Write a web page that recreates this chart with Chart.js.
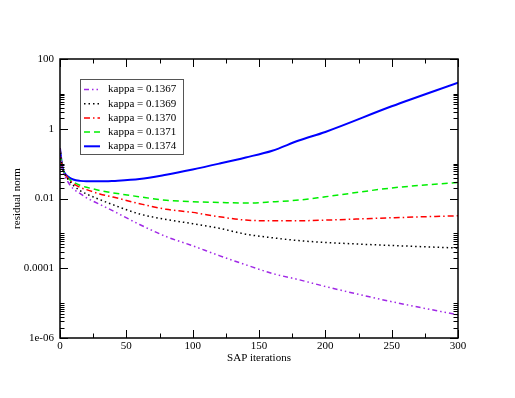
<!DOCTYPE html>
<html>
<head>
<meta charset="utf-8">
<script src="https://cdn.jsdelivr.net/npm/chart.js@4/dist/chart.umd.min.js"></script>
<style>
  body { margin: 0; background: #fff; }
  canvas { display: block; }
</style>
</head>
<body>
<canvas id="residualChart" width="515" height="398"></canvas>
<script>
// iterations shared by all series
const iterations = [0, 1, 2, 4, 7, 10, 15, 20, 30, 40, 60, 80, 100, 120, 140, 160, 180, 200, 250, 300];

const kappaLabels = ['kappa = 0.1367', 'kappa = 0.1369', 'kappa = 0.1370', 'kappa = 0.1371', 'kappa = 0.1374'];

const res1367 = [0.28, 0.11, 0.065, 0.042, 0.026, 0.019, 0.014, 0.0105, 0.0068, 0.0044, 0.0018, 0.00081, 0.00044, 0.00023, 0.000126, 0.000071, 0.000047, 0.00003, 0.000011, 0.0000046];
const res1369 = [0.28, 0.12, 0.07, 0.046, 0.032, 0.024, 0.017, 0.0135, 0.0093, 0.0066, 0.0036, 0.0025, 0.0019, 0.0014, 0.00095, 0.00075, 0.00062, 0.00055, 0.00045, 0.00038];
const res1370 = [0.28, 0.12, 0.07, 0.048, 0.034, 0.027, 0.021, 0.018, 0.0135, 0.011, 0.0071, 0.0049, 0.004, 0.003, 0.0024, 0.0023, 0.0023, 0.0024, 0.0028, 0.0032];
const res1371 = [0.28, 0.12, 0.07, 0.05, 0.036, 0.03, 0.024, 0.021, 0.017, 0.0145, 0.0112, 0.0089, 0.0081, 0.0077, 0.0074, 0.008, 0.009, 0.0112, 0.02, 0.029];
const res1374 = [0.28, 0.13, 0.075, 0.05, 0.04, 0.035, 0.032, 0.031, 0.031, 0.032, 0.036, 0.048, 0.068, 0.1, 0.15, 0.235, 0.46, 0.81, 4.4, 21];

// y axis: labelled majors every two decades
const yMajorValues = [1e-6, 1e-4, 1e-2, 1, 100];
const yMajorLabels = ['1e-06', '0.0001', '0.01', '1', '100'];
const yMinorSteps = [2, 3, 4, 5, 6, 7, 8, 9, 10];

const FONT = { family: '"Liberation Serif", "Times New Roman", serif', size: 11 };

function toPoints(values) {
    return iterations.map((it, i) => ({ x: it, y: values[i] }));
}

function isMajor(v) {
    return yMajorValues.some(m => Math.abs(v - m) / m < 1e-6);
}

// inward tick marks on all four sides + frame
const frameTicks = {
    id: 'frameTicks',
    afterDatasetsDraw(chart) {
        const { ctx, chartArea: a, scales } = chart;
        ctx.save();
        ctx.strokeStyle = '#000';
        ctx.lineWidth = 1;
        const line = (x1, y1, x2, y2) => {
            ctx.beginPath();
            ctx.moveTo(x1, y1);
            ctx.lineTo(x2, y2);
            ctx.stroke();
        };
        scales.x.ticks.forEach(t => {
            const px = Math.round(scales.x.getPixelForValue(t.value)) + 0.5;
            const len = t.value % 50 === 0 ? 8 : 4.5;
            line(px, a.bottom, px, a.bottom - len);
            line(px, a.top, px, a.top + len);
        });
        scales.y.ticks.forEach(t => {
            const py = Math.round(scales.y.getPixelForValue(t.value)) + 0.5;
            const len = isMajor(t.value) ? 8 : 4.5;
            line(a.left, py, a.left + len, py);
            line(a.right, py, a.right - len, py);
        });
        ctx.lineWidth = 1.5;
        ctx.strokeRect(a.left, a.top, a.right - a.left, a.bottom - a.top);
        ctx.restore();
    }
};

// boxed legend inside the plot, top-left
const boxLegend = {
    id: 'boxLegend',
    afterDraw(chart) {
        const { ctx } = chart;
        const bx = 80, by = 79, bw = 103, bh = 75;
        ctx.save();
        ctx.fillStyle = '#fff';
        ctx.fillRect(bx, by, bw, bh);
        ctx.strokeStyle = '#555';
        ctx.lineWidth = 1;
        ctx.strokeRect(bx + 0.5, by + 0.5, bw, bh);
        ctx.font = FONT.size + 'px ' + FONT.family;
        ctx.textBaseline = 'middle';
        ctx.fillStyle = '#000';
        chart.data.datasets.forEach((ds, i) => {
            const y = by + 10.5 + i * 14.2;
            ctx.strokeStyle = ds.borderColor;
            ctx.lineWidth = ds.borderWidth;
            ctx.setLineDash(ds.borderDash || []);
            ctx.beginPath();
            ctx.moveTo(84, y);
            ctx.lineTo(100, y);
            ctx.stroke();
            ctx.setLineDash([]);
            ctx.fillText(ds.label, 108, y);
        });
        ctx.restore();
    }
};

const seriesStyle = [
    { data: res1367, color: 'rgb(160, 40, 230)', dash: [5, 3, 1.5, 3, 1.5, 3], width: 1.5 },
    { data: res1369, color: '#000000', dash: [1.5, 3], width: 1.5 },
    { data: res1370, color: '#ff0000', dash: [6, 3, 1.5, 3], width: 1.5 },
    { data: res1371, color: '#00ee00', dash: [6, 4], width: 1.5 },
    { data: res1374, color: '#0000ff', dash: [], width: 2 }
];

const ctx = document.getElementById('residualChart');
new Chart(ctx, {
    type: 'line',
    data: {
        datasets: seriesStyle.map((s, i) => ({
            label: kappaLabels[i],
            data: toPoints(s.data),
            borderColor: s.color,
            borderDash: s.dash,
            borderWidth: s.width,
            pointRadius: 0,
            fill: false,
            cubicInterpolationMode: 'monotone'
        }))
    },
    options: {
        responsive: false,
        animation: false,
        layout: { padding: { top: 59, right: 57, left: 0, bottom: 0 } },
        plugins: {
            legend: { display: false },
            tooltip: { enabled: false }
        },
        scales: {
            x: {
                type: 'linear',
                min: 0,
                max: 300,
                grid: { display: false, drawTicks: false },
                border: { display: false },
                ticks: {
                    stepSize: 25,
                    autoSkip: false,
                    maxRotation: 0,
                    padding: 2,
                    color: '#000',
                    font: FONT,
                    callback: v => (v % 50 === 0 ? String(v) : '')
                },
                title: {
                    display: true,
                    text: 'SAP iterations',
                    color: '#000',
                    font: FONT,
                    padding: { top: 0, bottom: 33 }
                },
                afterFit: s => { s.height = 60; }
            },
            y: {
                type: 'logarithmic',
                min: 1e-6,
                max: 100,
                grid: { display: false, drawTicks: false },
                border: { display: false },
                afterBuildTicks: s => {
                    const t = [];
                    yMajorValues.slice(0, -1).forEach(base => {
                        t.push({ value: base });
                        yMinorSteps.forEach(k => t.push({ value: k * base }));
                    });
                    t.push({ value: 100 });
                    s.ticks = t;
                },
                ticks: {
                    autoSkip: false,
                    padding: 6,
                    color: '#000',
                    font: FONT,
                    callback: v => {
                        const i = yMajorValues.findIndex(m => Math.abs(v - m) / m < 1e-6);
                        return i >= 0 ? yMajorLabels[i] : '';
                    }
                },
                title: {
                    display: true,
                    text: 'residual norm',
                    color: '#000',
                    font: FONT,
                    padding: { top: 11, bottom: 0 }
                },
                afterFit: s => { s.width = 60; }
            }
        }
    },
    plugins: [frameTicks, boxLegend]
});
</script>
</body>
</html>
